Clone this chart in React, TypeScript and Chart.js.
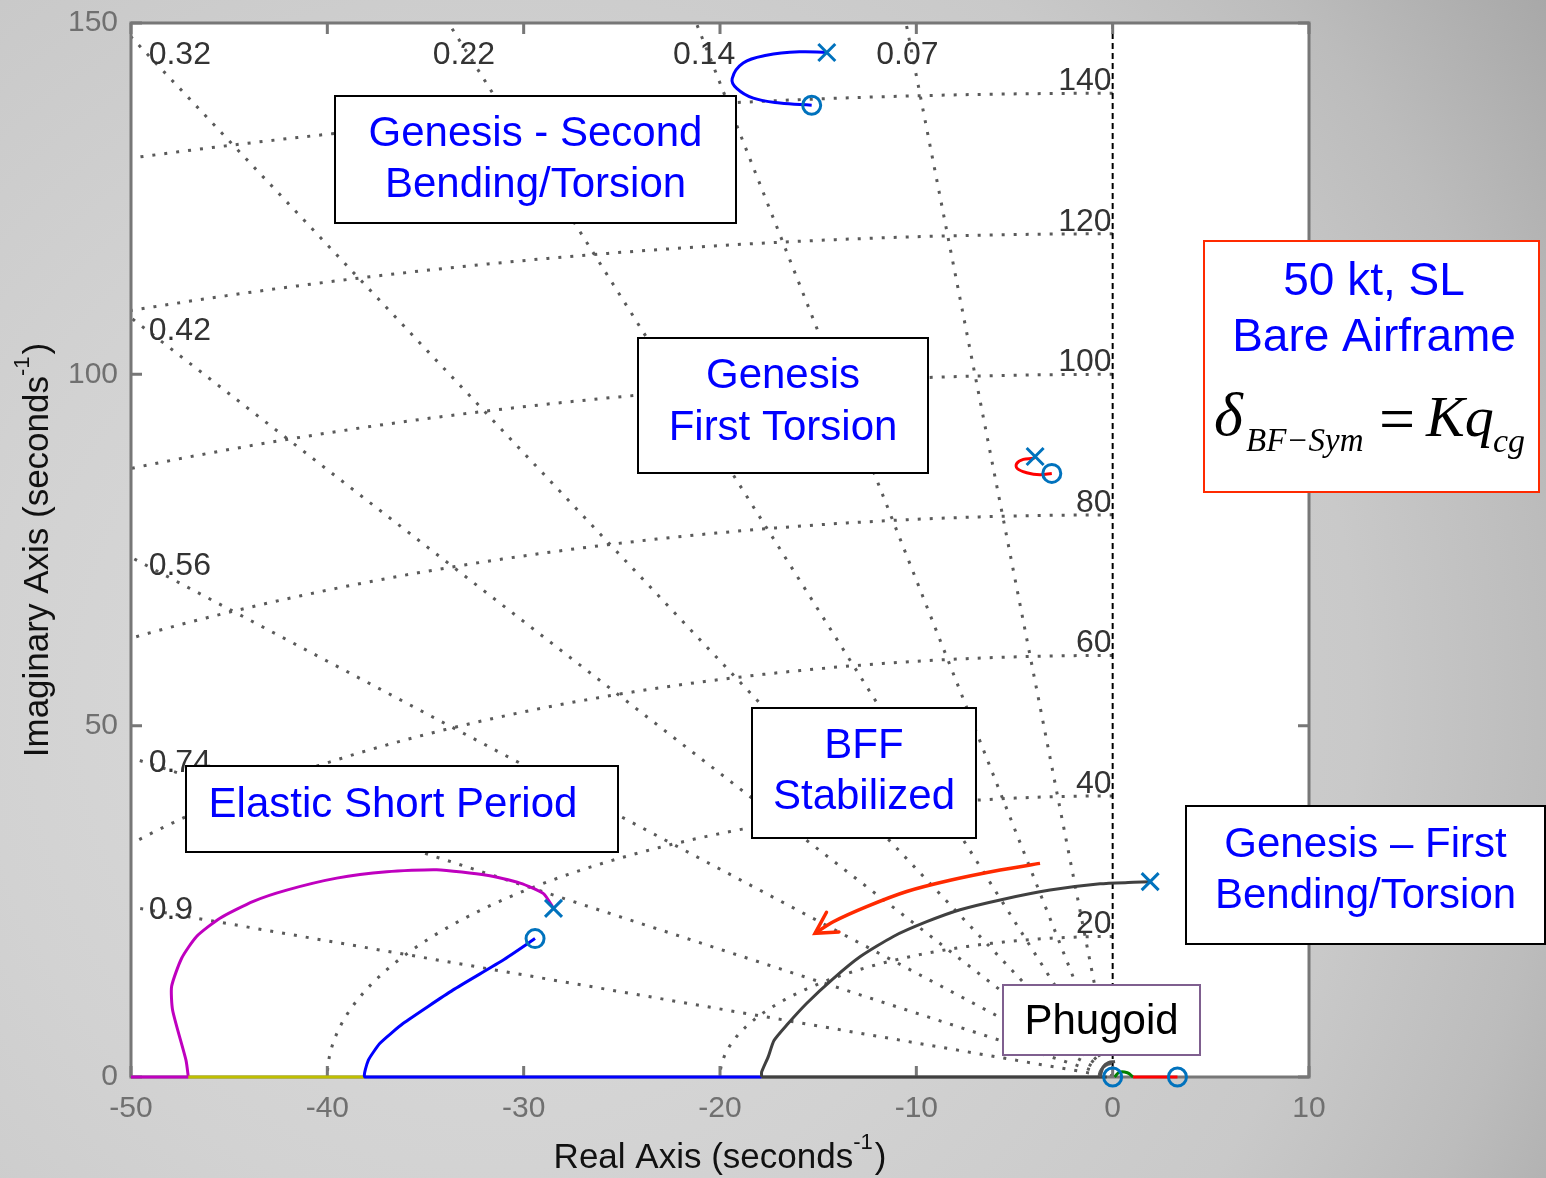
import React, { useEffect, useRef } from "react";
import { Chart, registerables } from "chart.js";
Chart.register(...registerables);

// ---------- data ----------
const xTicks = [-50, -40, -30, -20, -10, 0, 10];
const yTicks = [0, 50, 100, 150];
const dampingRatios = [0.07, 0.14, 0.22, 0.32, 0.42, 0.56, 0.74, 0.9];
const naturalFreqs = [20, 40, 60, 80, 100, 120, 140];

// root-locus branches, [real, imag]
const shortPeriodLocus = [[-47.08, 0], [-47.2, 2.4], [-47.88, 9.5], [-47.93, 12.9], [-47.42, 16.9], [-46.66, 20.0], [-45.47, 22.6], [-43.77, 25.0], [-42.07, 26.6], [-39.52, 28.3], [-36.97, 29.2], [-34.43, 29.5], [-31.88, 28.7], [-30.18, 27.6], [-28.99, 26.1], [-28.48, 24.0]];
const shortPeriodRealAxis = [[-50, 0], [-47.08, 0]];
const oliveRealAxis = [[-47.08, 0], [-38.08, 0]];
const blueZeroBranch = [[-29.42, 19.7], [-31.04, 16.65], [-33.59, 12.4], [-36.13, 7.64], [-37.32, 4.8], [-37.91, 2.4], [-38.08, 0], [-17.88, 0]];
const firstBendingLocus = [[1.91, 27.8], [1.06, 27.7], [-0.64, 27.5], [-3.19, 26.6], [-5.73, 25.2], [-7.77, 23.8], [-9.47, 22.1], [-11.17, 20.0], [-12.87, 17.1], [-14.23, 14.0], [-15.58, 10.5], [-16.6, 7.4], [-17.25, 5.2], [-17.54, 2.9], [-17.88, 0.7], [-17.88, 0]];
const greyRealAxis = [[-17.88, 0], [-0.3, 0]];
const phugoidArc = [[-0.64, 0], [-0.47, 1.5], [-0.22, 2.05], [0.12, 2.2]];
const phugoidGreen = [[0.1, 0], [0.35, 0.7], [0.75, 0.6], [1.04, 0]];
const redRealAxis = [[1.04, 0], [3.3, 0]];
const secondBendingLoop = [[-14.56, 145.8], [-15.93, 145.9], [-17.63, 145.4], [-18.82, 144.3], [-19.38, 142.1], [-19.15, 140.7], [-18.3, 139.3], [-16.95, 138.6], [-15.33, 138.3]];
const firstTorsionLoop = [[-3.95, 88.3], [-4.04, 88.05], [-4.55, 87.9], [-4.89, 87.3], [-4.86, 86.6], [-4.38, 86.0], [-3.7, 85.7], [-3.1, 85.9]];
const bffArrow = [[-3.7, 30.4], [-5.73, 29.46], [-8.28, 28.0], [-10.49, 26.4], [-12.53, 24.25], [-14.23, 22.1], [-15.16, 20.45]];
const poles = [[-14.56, 145.8], [-3.95, 88.3], [-28.48, 24.0], [1.91, 27.8]];
const zeros = [[-15.33, 138.3], [-3.1, 85.9], [-29.42, 19.7], [0, 0], [3.3, 0]];

const SANS = '"Liberation Sans", Arial, Helvetica, sans-serif';
const SERIF = '"Liberation Serif", "Times New Roman", serif';
const pts = (a: number[][]) => a.map(([x, y]) => ({ x, y }));

function lineDs(a: number[][], color: string, tension = 0.2) {
  return { data: pts(a), showLine: true, borderColor: color, backgroundColor: color, borderWidth: 3, pointRadius: 0, tension, clip: 6, fill: false };
}

const ARROW_INDEX = 2;

const bgPlugin = {
  id: "bg",
  beforeDraw(chart: any) {
    const { ctx, width, height, chartArea: a } = chart;
    ctx.save();
    const g = ctx.createRadialGradient(500, 700, 0, 500, 700, 1300);
    g.addColorStop(0, "#dcdcdc");
    g.addColorStop(0.4, "#d2d2d2");
    g.addColorStop(0.66, "#c9c9c9");
    g.addColorStop(0.81, "#bcbcbc");
    g.addColorStop(1, "#a4a4a4");
    ctx.fillStyle = g;
    ctx.fillRect(0, 0, width, height);
    ctx.fillStyle = "#ffffff";
    ctx.fillRect(a.left, a.top, a.right - a.left, a.bottom - a.top);
    ctx.restore();
  },
  beforeDatasetsDraw(chart: any) {
    const { ctx, chartArea: a, scales } = chart;
    const x = scales.x, y = scales.y;
    ctx.save();
    ctx.beginPath();
    ctx.rect(a.left, a.top, a.right - a.left, a.bottom - a.top);
    ctx.clip();
    ctx.strokeStyle = "#5a5a5a";
    ctx.lineWidth = 3;
    ctx.setLineDash([3, 9]);
    const rmax = 170;
    dampingRatios.forEach((z) => {
      const w = Math.sqrt(1 - z * z);
      ctx.beginPath();
      ctx.moveTo(x.getPixelForValue(0), y.getPixelForValue(0));
      ctx.lineTo(x.getPixelForValue(-z * rmax), y.getPixelForValue(w * rmax));
      ctx.stroke();
    });
    naturalFreqs.forEach((wn) => {
      ctx.beginPath();
      for (let i = 0; i <= 240; i++) {
        const t = Math.PI / 2 + (Math.PI / 2) * (i / 240);
        const px = x.getPixelForValue(wn * Math.cos(t));
        const py = y.getPixelForValue(wn * Math.sin(t));
        if (i === 0) ctx.moveTo(px, py); else ctx.lineTo(px, py);
      }
      ctx.stroke();
    });
    ctx.setLineDash([]);
    // labels
    ctx.fillStyle = "#333333";
    ctx.font = `32px ${SANS}`;
    const yLab = 145.4, xLab = -49.1;
    dampingRatios.forEach((z) => {
      const w = Math.sqrt(1 - z * z);
      const xt = (-yLab * z) / w;
      if (xt > xLab + 0.5) {
        ctx.textAlign = "center";
        ctx.textBaseline = "middle";
        ctx.fillText(String(z), x.getPixelForValue(xt) - 5, y.getPixelForValue(yLab));
      } else {
        ctx.textAlign = "left";
        ctx.textBaseline = "middle";
        ctx.fillText(String(z), x.getPixelForValue(xLab), y.getPixelForValue((-xLab * w) / z));
      }
    });
    naturalFreqs.forEach((wn) => {
      ctx.textAlign = "right";
      ctx.textBaseline = "alphabetic";
      ctx.fillText(String(wn), x.getPixelForValue(0) - 1, y.getPixelForValue(wn) - 3);
    });
    // dashed zero line
    ctx.strokeStyle = "#000000";
    ctx.lineWidth = 2;
    ctx.setLineDash([6, 4]);
    ctx.beginPath();
    ctx.moveTo(x.getPixelForValue(0), a.top);
    ctx.lineTo(x.getPixelForValue(0), a.bottom);
    ctx.stroke();
    ctx.restore();

    // frame and ticks
    ctx.save();
    ctx.strokeStyle = "#777777";
    ctx.lineWidth = 3;
    ctx.strokeRect(a.left, a.top, a.right - a.left, a.bottom - a.top);
    ctx.beginPath();
    xTicks.forEach((v) => {
      const px = x.getPixelForValue(v);
      ctx.moveTo(px, a.bottom); ctx.lineTo(px, a.bottom - 11);
      ctx.moveTo(px, a.top); ctx.lineTo(px, a.top + 11);
    });
    yTicks.forEach((v) => {
      const py = y.getPixelForValue(v);
      ctx.moveTo(a.left, py); ctx.lineTo(a.left + 11, py);
      ctx.moveTo(a.right, py); ctx.lineTo(a.right - 11, py);
    });
    ctx.stroke();
    ctx.restore();
  },
  afterDatasetsDraw(chart: any) {
    const { ctx } = chart;
    const meta = chart.getDatasetMeta(ARROW_INDEX);
    const n = meta.data.length;
    const p1 = meta.data[n - 2], p2 = meta.data[n - 1];
    const ang = Math.atan2(p2.y - p1.y, p2.x - p1.x);
    const L = 24, spread = Math.PI / 6.2;
    ctx.save();
    ctx.strokeStyle = "#ff2a00";
    ctx.lineWidth = 3.5;
    ctx.lineCap = "round";
    ctx.beginPath();
    ctx.moveTo(p2.x - L * Math.cos(ang - spread), p2.y - L * Math.sin(ang - spread));
    ctx.lineTo(p2.x, p2.y);
    ctx.lineTo(p2.x - L * Math.cos(ang + spread), p2.y - L * Math.sin(ang + spread));
    ctx.stroke();
    ctx.restore();
  },
  afterDraw(chart: any) {
    const { ctx, chartArea: a } = chart;
    ctx.save();
    // axis titles
    const drawTitle = (main: string, cx: number, cy: number, rotate: boolean) => {
      ctx.save();
      ctx.translate(cx, cy);
      if (rotate) ctx.rotate(-Math.PI / 2);
      ctx.fillStyle = "#111111";
      ctx.font = `35px ${SANS}`;
      const w1 = ctx.measureText(main).width;
      ctx.font = `22px ${SANS}`;
      const w2 = ctx.measureText("-1").width;
      ctx.font = `35px ${SANS}`;
      const w3 = ctx.measureText(")").width;
      const total = w1 + w2 + w3 + 2;
      let sx = -total / 2;
      ctx.textBaseline = "middle";
      ctx.textAlign = "left";
      ctx.fillText(main, sx, 0);
      ctx.font = `22px ${SANS}`;
      ctx.fillText("-1", sx + w1, -15);
      ctx.font = `35px ${SANS}`;
      ctx.fillText(")", sx + w1 + w2 + 2, 0);
      ctx.restore();
    };
    drawTitle("Real Axis (seconds", (a.left + a.right) / 2, 1158, false);
    drawTitle("Imaginary Axis (seconds", 38, (a.top + a.bottom) / 2, true);

    // annotation boxes
    const box = (x1: number, y1: number, x2: number, y2: number, border: string, lines: string[], cy: number[], color: string, size: number, cx?: number) => {
      ctx.fillStyle = "#ffffff";
      ctx.fillRect(x1, y1, x2 - x1, y2 - y1);
      ctx.strokeStyle = border;
      ctx.lineWidth = 2;
      ctx.strokeRect(x1, y1, x2 - x1, y2 - y1);
      ctx.fillStyle = color;
      ctx.font = `${size}px ${SANS}`;
      ctx.textAlign = "center";
      ctx.textBaseline = "middle";
      lines.forEach((t, i) => ctx.fillText(t, cx ?? (x1 + x2) / 2, cy[i]));
    };
    const BLUE = "#0000ff";
    box(335, 96, 736, 223, "#000", ["Genesis - Second", "Bending/Torsion"], [134, 185], BLUE, 42);
    box(638, 338, 928, 473, "#000", ["Genesis", "First Torsion"], [376, 428], BLUE, 42);
    box(752, 708, 976, 838, "#000", ["BFF", "Stabilized"], [746, 797], BLUE, 42);
    box(186, 766, 618, 852, "#000", ["Elastic Short Period"], [805], BLUE, 42, 393);
    box(1186, 806, 1545, 944, "#000", ["Genesis \u2013 First", "Bending/Torsion"], [845, 896], BLUE, 42);
    box(1003, 985, 1200, 1055, "#7f5f8f", ["Phugoid"], [1022], "#000000", 42);
    box(1204, 241, 1539, 492, "#ff2a00", ["50 kt, SL", "Bare Airframe"], [282, 338], BLUE, 46, 1374);

    // formula
    ctx.fillStyle = "#000000";
    ctx.textAlign = "left";
    ctx.textBaseline = "alphabetic";
    ctx.font = `italic 62px ${SERIF}`;
    ctx.fillText("\u03b4", 1214, 435);
    ctx.font = `italic 33px ${SERIF}`;
    ctx.fillText("BF\u2212Sym", 1246, 451);
    ctx.font = `64px ${SERIF}`;
    ctx.fillText("=", 1379, 440);
    ctx.font = `italic 58px ${SERIF}`;
    ctx.fillText("Kq", 1426, 436);
    ctx.font = `italic 34px ${SERIF}`;
    ctx.fillText("cg", 1493, 452);
    ctx.restore();
  },
};

export default function App() {
  const ref = useRef<HTMLCanvasElement>(null);
  useEffect(() => {
    const MARK = "#0072BD";
    const chart = new Chart(ref.current as HTMLCanvasElement, {
      type: "scatter",
      data: {
        datasets: [
          { data: pts(poles), showLine: false, pointStyle: "crossRot", pointRadius: 12, borderColor: MARK, backgroundColor: "transparent", borderWidth: 3, clip: 20 } as any,
          { data: pts(zeros), showLine: false, pointStyle: "circle", pointRadius: 9, borderColor: MARK, backgroundColor: "transparent", borderWidth: 3, clip: 20 } as any,
          { ...lineDs(bffArrow, "#ff2a00", 0.3), borderWidth: 3.5 } as any,
          lineDs(secondBendingLoop, "#0000ff", 0.4) as any,
          lineDs(firstTorsionLoop, "#ff0000", 0.4) as any,
          lineDs(redRealAxis, "#ff0000", 0) as any,
          lineDs(phugoidGreen, "#008000", 0.4) as any,
          lineDs(phugoidArc, "#505050", 0.4) as any,
          lineDs(greyRealAxis, "#404040", 0) as any,
          lineDs(firstBendingLocus, "#404040", 0.2) as any,
          lineDs(blueZeroBranch, "#0000ff", 0.15) as any,
          lineDs(oliveRealAxis, "#bfbf00", 0) as any,
          lineDs(shortPeriodRealAxis, "#bf00bf", 0) as any,
          lineDs(shortPeriodLocus, "#bf00bf", 0.2) as any,
        ],
      },
      options: {
        responsive: false,
        animation: false,
        devicePixelRatio: 1,
        events: [],
        layout: { padding: { top: 23, right: 237, left: 0, bottom: 0 } },
        plugins: { legend: { display: false }, tooltip: { enabled: false } },
        scales: {
          x: {
            type: "linear",
            min: -50,
            max: 10,
            grid: { display: false, drawTicks: false },
            border: { display: false },
            ticks: { font: { family: SANS, size: 30 }, color: "#707070", padding: 14 },
            afterBuildTicks: (axis: any) => { axis.ticks = xTicks.map((v) => ({ value: v })); },
            afterFit: (scale: any) => { scale.height = 101; scale.paddingLeft = 0; scale.paddingRight = 0; },
          },
          y: {
            type: "linear",
            min: 0,
            max: 150,
            grid: { display: false, drawTicks: false },
            border: { display: false },
            ticks: { font: { family: SANS, size: 30 }, color: "#707070", padding: 13 },
            afterBuildTicks: (axis: any) => { axis.ticks = yTicks.map((v) => ({ value: v })); },
            afterFit: (scale: any) => { scale.width = 131; scale.paddingTop = 0; scale.paddingBottom = 0; },
          },
        },
      } as any,
      plugins: [bgPlugin],
    });
    return () => chart.destroy();
  }, []);
  return (
    <div style={{ position: "fixed", left: 0, top: 0, width: 1546, height: 1178 }}>
      <canvas ref={ref} width={1546} height={1178} style={{ display: "block", width: 1546, height: 1178 }} />
    </div>
  );
}
